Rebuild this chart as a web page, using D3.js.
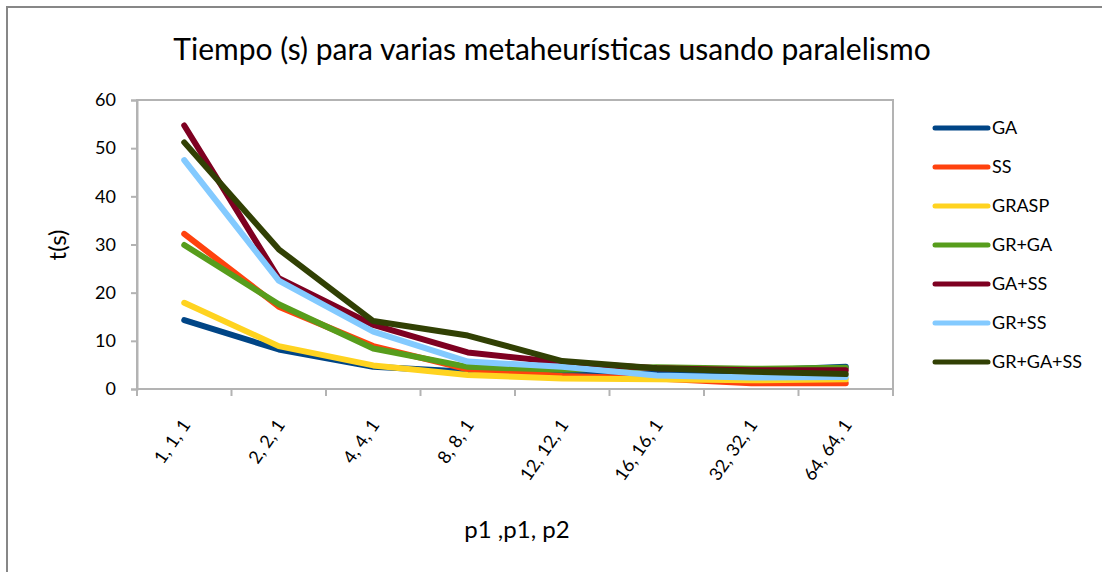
<!DOCTYPE html>
<html>
<head>
<meta charset="utf-8">
<script src="https://cdn.jsdelivr.net/npm/d3@7"></script>
<style>
  html, body { margin: 0; padding: 0; background: #fff; }
  svg { display: block; }
  text { font-family: Lato, "Open Sans", sans-serif; fill: #000; }
</style>
</head>
<body>
<svg id="chart" width="1102" height="572"></svg>
<script>
// Categories: processor configuration p1, p1, p2
const categories = ["1, 1, 1", "2, 2, 1", "4, 4, 1", "8, 8, 1", "12, 12, 1", "16, 16, 1", "32, 32, 1", "64, 64, 1"];

// Execution time (s) of each metaheuristic
const seriesNames = ["GA", "SS", "GRASP", "GR+GA", "GA+SS", "GR+SS", "GR+GA+SS"];
const GA       = [14.3, 8.2, 4.6, 3.6, 3.1, 3.2, 3.8, 4.6];
const SS       = [32.2, 17.1, 8.9, 4.1, 2.7, 2.2, 1.2, 1.2];
const GRASP    = [17.9, 8.9, 4.9, 2.9, 2.2, 2.0, 1.8, 2.0];
const GR_GA    = [29.9, 17.6, 8.4, 4.6, 4.0, 4.5, 4.2, 4.4];
const GA_SS    = [54.7, 23.0, 13.3, 7.6, 5.5, 4.3, 3.9, 3.9];
const GR_SS    = [47.5, 22.5, 11.9, 5.7, 4.6, 2.8, 2.4, 2.5];
const GR_GA_SS = [51.2, 29.0, 14.1, 11.1, 5.8, 4.3, 3.6, 3.1];

const yTicks = [0, 10, 20, 30, 40, 50, 60];
const colors = ["#004586", "#ff420e", "#ffd320", "#579d1c", "#7e0021", "#83caff", "#314004"];

const seriesValues = [GA, SS, GRASP, GR_GA, GA_SS, GR_SS, GR_GA_SS];
const series = seriesNames.map((name, i) => ({ name, values: seriesValues[i], color: colors[i] }));

const svg = d3.select("#chart");

// Outer chart frame
svg.append("rect")
  .attr("x", 7).attr("y", 7)
  .attr("width", 1110).attr("height", 580)
  .attr("fill", "none").attr("stroke", "#878787").attr("stroke-width", 2);

const plot = { left: 137, right: 893, top: 100, bottom: 389 };

const x = d3.scaleBand().domain(categories).range([plot.left, plot.right]).padding(0);
const y = d3.scaleLinear().domain([0, 60]).range([plot.bottom, plot.top]);

// Plot area border
svg.append("rect")
  .attr("x", plot.left).attr("y", plot.top)
  .attr("width", plot.right - plot.left).attr("height", plot.bottom - plot.top)
  .attr("fill", "none").attr("stroke", "#b3b3b3").attr("stroke-width", 2);

// Y axis
const yAxis = svg.append("g")
  .attr("transform", `translate(${plot.left},0)`)
  .call(d3.axisLeft(y).tickValues(yTicks).tickSize(6).tickPadding(15));
yAxis.select(".domain").attr("stroke", "#b3b3b3").attr("stroke-width", 2);
yAxis.selectAll(".tick line").attr("stroke", "#b3b3b3").attr("stroke-width", 2);
yAxis.selectAll(".tick text")
  .style("font-family", "Lato, sans-serif").style("font-size", "18px").attr("fill", "#000");

// X axis: ticks at category boundaries
const xAxis = svg.append("g")
  .attr("transform", `translate(0,${plot.bottom})`);
xAxis.append("line")
  .attr("x1", plot.left).attr("x2", plot.right)
  .attr("stroke", "#b3b3b3").attr("stroke-width", 2);
const boundaries = categories.map(c => x(c)).concat([x(categories[categories.length - 1]) + x.bandwidth()]);
xAxis.selectAll("line.tick").data(boundaries).enter().append("line")
  .attr("class", "tick")
  .attr("x1", d => d).attr("x2", d => d)
  .attr("y1", 0).attr("y2", 7)
  .attr("stroke", "#b3b3b3").attr("stroke-width", 2);

// Rotated category labels
svg.selectAll("text.xlabel").data(categories).enter().append("text")
  .attr("class", "xlabel")
  .attr("text-anchor", "end")
  .attr("transform", d => `translate(${x(d) + x.bandwidth() / 2 + 7},${plot.bottom + 36}) rotate(-55)`)
  .style("font-size", "18px")
  .text(d => d);

// Series lines
const line = d3.line()
  .x((d, i) => x(categories[i]) + x.bandwidth() / 2)
  .y(d => y(d));

svg.append("g").selectAll("path").data(series).enter().append("path")
  .attr("d", d => line(d.values))
  .attr("fill", "none")
  .attr("stroke", d => d.color)
  .attr("stroke-width", 6)
  .attr("stroke-linejoin", "round")
  .attr("stroke-linecap", "round");

// Title
svg.append("text")
  .attr("x", 552).attr("y", 60)
  .attr("text-anchor", "middle")
  .style("font-size", "30px")
  .text("Tiempo (s) para varias metaheurísticas usando paralelismo");

// Axis titles
svg.append("text")
  .attr("transform", "translate(66,245) rotate(-90)")
  .attr("text-anchor", "middle")
  .style("font-size", "24px")
  .text("t(s)");

svg.append("text")
  .attr("x", 517).attr("y", 538)
  .attr("text-anchor", "middle")
  .style("font-size", "24px")
  .text("p1 ,p1, p2");

// Legend
const legend = svg.append("g");
const legendItems = legend.selectAll("g").data(series).enter().append("g")
  .attr("transform", (d, i) => `translate(0,${128 + i * 39})`);
legendItems.append("line")
  .attr("x1", 935).attr("x2", 988)
  .attr("stroke", d => d.color)
  .attr("stroke-width", 5)
  .attr("stroke-linecap", "round");
legendItems.append("text")
  .attr("x", 992).attr("dy", "0.35em")
  .style("font-size", "18px")
  .text(d => d.name);
</script>
</body>
</html>
